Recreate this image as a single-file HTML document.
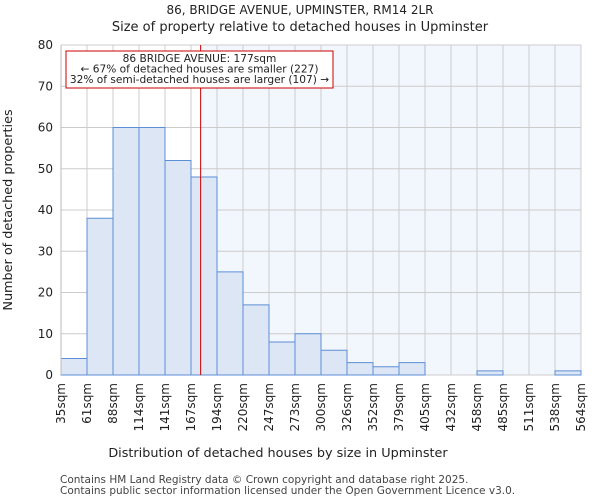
<!DOCTYPE html>
<html><head><meta charset="utf-8"><style>
body{margin:0;background:#fff;font-family:"DejaVu Sans","Liberation Sans",sans-serif;}
</style></head><body>
<svg id="chart" width="600" height="500" xmlns="http://www.w3.org/2000/svg" font-family="DejaVu Sans, Liberation Sans, sans-serif">
<text x="300" y="14" text-anchor="middle" font-size="12" fill="#222">86, BRIDGE AVENUE, UPMINSTER, RM14 2LR</text>
<text x="300" y="31" text-anchor="middle" font-size="13" fill="#222">Size of property relative to detached houses in Upminster</text>
<g id="plot"></g>
<text x="278" y="457" text-anchor="middle" font-size="12.8" fill="#222">Distribution of detached houses by size in Upminster</text>
<text transform="translate(12,210) rotate(-90)" text-anchor="middle" font-size="12.8" fill="#222">Number of detached properties</text>
<text x="60" y="483" font-size="10.5" fill="#444">Contains HM Land Registry data © Crown copyright and database right 2025.</text>
<text x="60" y="494" font-size="10.5" fill="#444">Contains public sector information licensed under the Open Government Licence v3.0.</text>
</svg>
<script>
const edgeLabels=["35sqm","61sqm","88sqm","114sqm","141sqm","167sqm","194sqm","220sqm","247sqm","273sqm","300sqm","326sqm","352sqm","379sqm","405sqm","432sqm","458sqm","485sqm","511sqm","538sqm","564sqm"];
const edgeValues=[35,61,88,114,141,167,194,220,247,273,300,326,352,379,405,432,458,485,511,538,564];
const counts=[4,38,60,60,52,48,25,17,8,10,6,3,2,3,0,0,1,0,0,1];
const yTicks=[0,10,20,30,40,50,60,70,80];
const markerValue=177;
const L=61,R=581,T=45,B=375,yMax=80;
const NS="http://www.w3.org/2000/svg";
const g=document.getElementById('plot');
const n=counts.length,bw=(R-L)/n;
const xi=i=>L+i*bw;
const y=v=>B-(v/yMax)*(B-T);
function xv(v){for(let i=0;i<edgeValues.length-1;i++){if(v<=edgeValues[i+1])return xi(i)+(v-edgeValues[i])/(edgeValues[i+1]-edgeValues[i])*bw;}return R;}
function mk(t,a){const e=document.createElementNS(NS,t);for(const k in a)e.setAttribute(k,a[k]);g.appendChild(e);return e;}
const mx=xv(markerValue);
let e=mk('rect',{x:mx,y:T,width:R-mx,height:B-T,fill:'#f2f6fd'});


for(let i=0;i<edgeLabels.length;i++){
 e=mk('line',{x1:xi(i),x2:xi(i),y1:T,y2:B,stroke:'#cccccc','stroke-width':1});
 
 
}
yTicks.forEach(t=>{
 e=mk('line',{x1:L,x2:R,y1:y(t),y2:y(t),stroke:'#cccccc','stroke-width':1});
 
 
 e=mk('text',{x:L-8,y:y(t)+4,'text-anchor':'end','font-size':12,fill:'#222'});
 e.textContent=t;
 
 
});
counts.forEach((c,i)=>{
 if(c<=0)return;
 e=mk('rect',{x:xi(i),y:y(c),width:bw,height:B-y(c),fill:'#dce6f4',stroke:'#5b8fd6','stroke-width':1});
 
 
});
edgeLabels.forEach((l,i)=>{
 e=mk('text',{transform:`translate(${xi(i)+4},${B+8}) rotate(-90)`,'text-anchor':'end','font-size':12,fill:'#222'});
 e.textContent=l;
 
 
});
e=mk('line',{x1:L,x2:L,y1:T,y2:B,stroke:'#bbb'});


e=mk('line',{x1:mx,x2:mx,y1:T,y2:B,stroke:'#cc0000','stroke-width':1});


e=mk('rect',{x:66,y:51,width:267,height:37,fill:'#fff',stroke:'#cc0000','stroke-width':1});


["86 BRIDGE AVENUE: 177sqm","← 67% of detached houses are smaller (227)","32% of semi-detached houses are larger (107) →"].forEach((t,i)=>{
 e=mk('text',{x:199.5,y:62+i*10.5,'text-anchor':'middle','font-size':10.6,fill:'#222'});
 e.textContent=t;
 
 
});
</script>
</body></html>
